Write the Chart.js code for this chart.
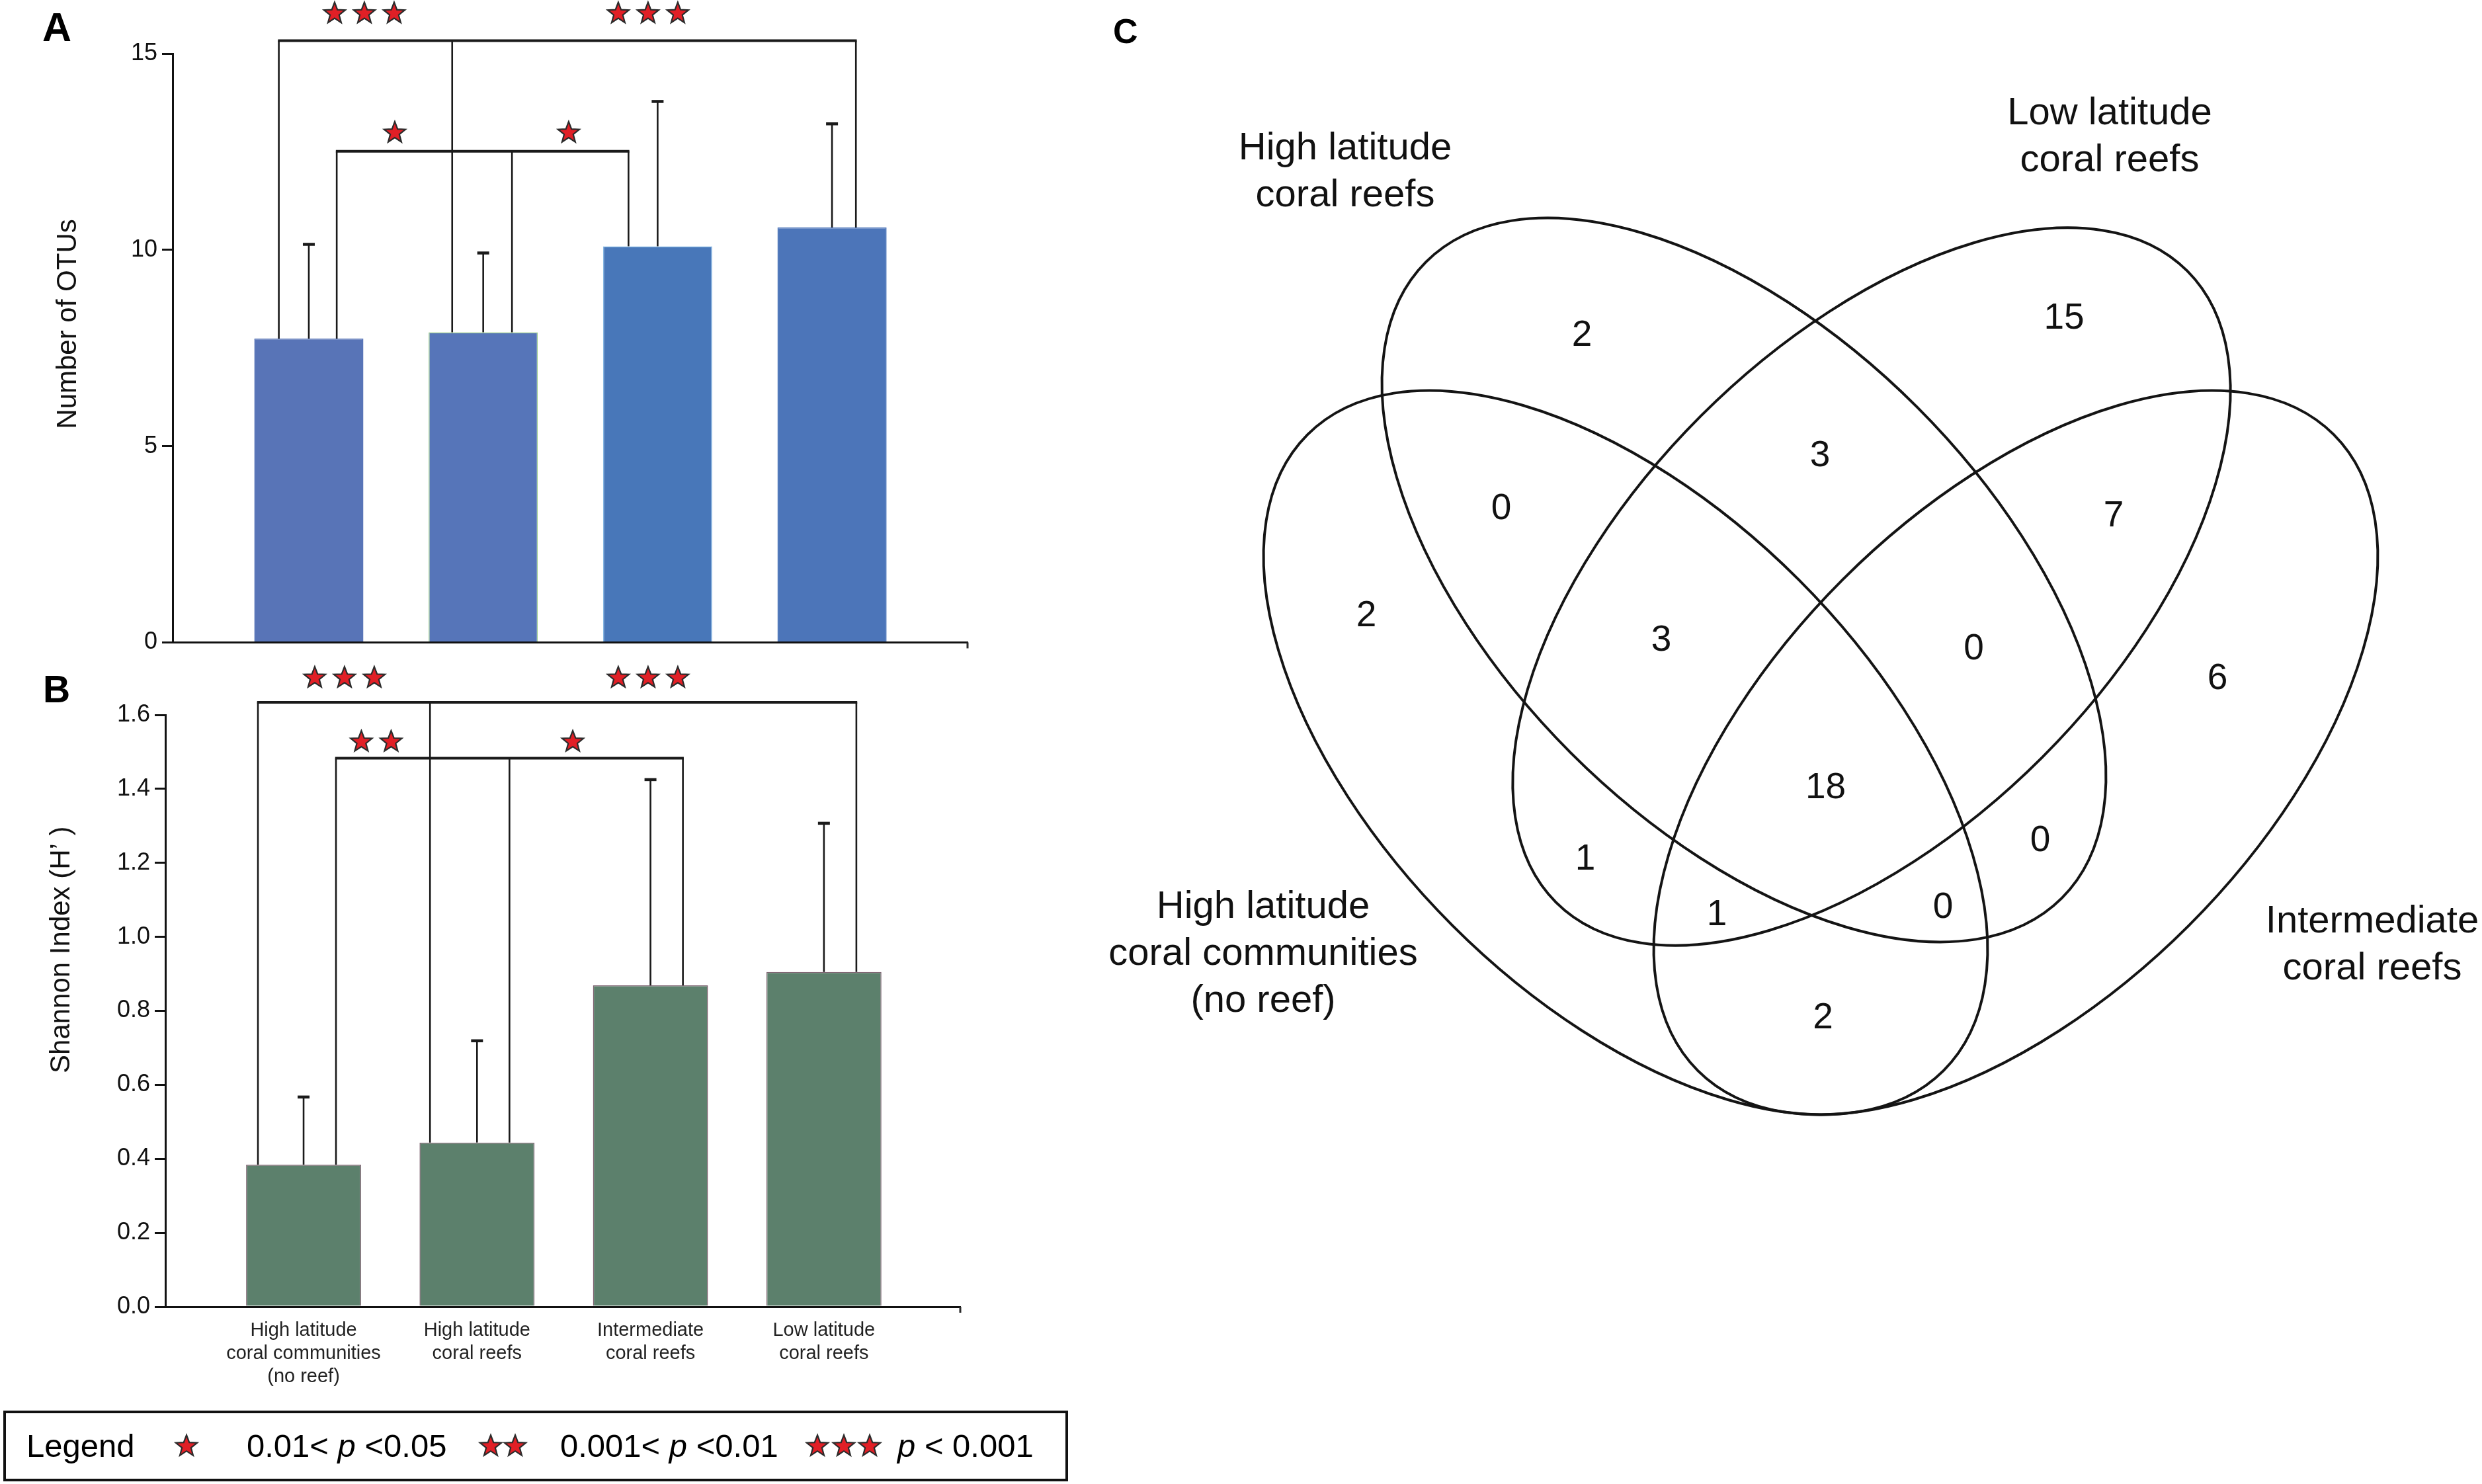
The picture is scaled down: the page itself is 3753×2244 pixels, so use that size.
<!DOCTYPE html>
<html>
<head>
<meta charset="utf-8">
<script src="https://cdn.jsdelivr.net/npm/chart.js@4.4.1/dist/chart.umd.min.js"></script>
<style>
  html, body { margin:0; padding:0; background:#fff; }
  body { width:3753px; height:2244px; position:relative; overflow:hidden; font-family:"Liberation Sans", Arial, sans-serif; color:#111; }
  canvas { position:absolute; }
  .plab { position:absolute; font-weight:bold; line-height:1; color:#000; }
  .lg { position:absolute; font-size:49px; line-height:49px; white-space:pre; color:#000; }
  #legendBox { position:absolute; left:5px; top:2133px; width:1602px; height:99px; border:4px solid #111; }
</style>
</head>
<body>
<canvas id="cA" width="1500" height="1000" style="left:0;top:0;width:1500px;height:1000px"></canvas>
<canvas id="cB" width="1500" height="1110" style="left:0;top:1000px;width:1500px;height:1110px"></canvas>
<canvas id="cC" width="2103" height="1750" style="left:1650px;top:0;width:2103px;height:1750px"></canvas>

<div class="plab" style="left:64px;top:11px;font-size:61px">A</div>
<div class="plab" style="left:65px;top:1014px;font-size:57px">B</div>
<div class="plab" style="left:1683px;top:21px;font-size:52px">C</div>

<div id="legendBox"></div>
<div class="lg" style="left:40px;top:2162px">Legend</div>
<div class="lg" style="left:373px;top:2162px">0.01&lt; <i>p</i> &lt;0.05</div>
<div class="lg" style="left:847px;top:2162px">0.001&lt; <i>p</i> &lt;0.01</div>
<div class="lg" style="left:1357px;top:2162px"><i>p</i> &lt; 0.001</div>
<svg id="legStars" style="position:absolute;left:0;top:2133px" width="1620" height="107"></svg>

<script>
// ---------------- DATA ----------------
const categories = [
  ["High latitude", "coral communities", "(no reef)"],
  ["High latitude", "coral reefs"],
  ["Intermediate", "coral reefs"],
  ["Low latitude", "coral reefs"]
];
// Panel A: number of OTUs (mean, mean + SD)
const otuMean = [7.74, 7.90, 10.09, 10.57];
const otuUpper = [10.14, 9.92, 13.78, 13.21];
// Panel B: Shannon index (mean, mean + SD)
const shannonMean = [0.384, 0.444, 0.869, 0.905];
const shannonUpper = [0.567, 0.719, 1.425, 1.307];
// significance brackets: level value, legs [category, offset], stars [x, y, count]
const bracketLevelsA = [15.33, 12.51];
const bracketLegsA = [
  [[0, -0.172], [1, -0.178], [3, 0.137]],
  [[0, 0.160], [1, 0.165], [2, -0.167]]
];
const starsA = [[0.3185, 16.02, 3], [1.945, 16.02, 3], [0.493, 12.98, 1], [1.49, 12.98, 1]];
const bracketLevelsB = [1.634, 1.483];
const bracketLegsB = [
  [[0, -0.263], [1, -0.271], [3, 0.187]],
  [[0, 0.187], [1, 0.187], [2, 0.187]]
];
const starsB = [[0.236, 1.70, 3], [1.986, 1.70, 3], [0.419, 1.527, 2], [1.552, 1.527, 1]];
const yTicksA = [0, 5, 10, 15];
const yTicksB = [0, 0.2, 0.4, 0.6, 0.8, 1.0, 1.2, 1.4, 1.6];
// Panel C: Venn counts per region
const vennSets = [
  ["High latitude", "coral communities", "(no reef)"],
  ["High latitude", "coral reefs"],
  ["Low latitude", "coral reefs"],
  ["Intermediate", "coral reefs"]
];
const vennRegions = ["B", "C", "B∩A", "B∩C", "C∩D", "A", "A∩B∩C", "B∩C∩D", "D", "A∩B∩C∩D", "A∩C", "B∩D", "A∩C∩D", "A∩B∩D", "A∩D"];
const vennCounts = [2, 15, 0, 3, 7, 2, 3, 0, 6, 18, 1, 0, 1, 0, 2];

// ---------------- LAYOUT ----------------
const vennRegionPos = [
  [-0.358, 0.409], [0.371, 0.435], [-0.480, 0.147], [0.002, 0.227], [0.446, 0.136],
  [-0.684, -0.015], [-0.238, -0.052], [0.2345, -0.065], [0.603, -0.110], [0.0105, -0.275],
  [-0.353, -0.383], [0.335, -0.355], [-0.154, -0.467], [0.188, -0.456], [0.0065, -0.623]
];
const vennEllipses = [ // cx, cy, semi-major, semi-minor, angle (deg, y-up)
  [-0.292, -0.221, 0.68, 0.37, -45],
  [-0.113, 0.040, 0.68, 0.37, -45],
  [0.080, 0.030, 0.675, 0.365, 45],
  [0.298, -0.221, 0.68, 0.37, 45]
];
const vennSetPos = [[-0.840, -0.455], [-0.716, 0.692], [0.440, 0.745], [0.837, -0.477]];

Chart.defaults.font.family = '"Liberation Sans", Arial, sans-serif';
Chart.defaults.color = '#111';

function drawStar(ctx, cx, cy, R, r) {
  ctx.beginPath();
  for (let k = 0; k < 10; k++) {
    const ang = -Math.PI / 2 + k * Math.PI / 5;
    const rr = k % 2 ? r : R;
    const px = cx + rr * Math.cos(ang), py = cy + rr * Math.sin(ang);
    if (k === 0) ctx.moveTo(px, py); else ctx.lineTo(px, py);
  }
  ctx.closePath();
  ctx.fillStyle = '#e11f26';
  ctx.fill();
  ctx.lineWidth = 2.2;
  ctx.strokeStyle = '#2b2b2b';
  ctx.lineJoin = 'miter';
  ctx.stroke();
}

const sigPlugin = {
  id: 'sig',
  afterDatasetsDraw(chart, args, o) {
    const ctx = chart.ctx, xs = chart.scales.x, ys = chart.scales.y;
    const line = (x1, y1, x2, y2) => { ctx.beginPath(); ctx.moveTo(x1, y1); ctx.lineTo(x2, y2); ctx.stroke(); };
    ctx.save();
    ctx.strokeStyle = '#1a1a1a';
    ctx.lineCap = 'butt';
    // error bars
    o.upper.forEach((u, i) => {
      const x = xs.getPixelForValue(i);
      const y0 = ys.getPixelForValue(o.mean[i]);
      const y1 = ys.getPixelForValue(u);
      ctx.lineWidth = 2.6; line(x, y0, x, y1);
      ctx.lineWidth = 4.5; line(x - 9, y1, x + 9, y1);
    });
    // brackets
    o.levels.forEach((lv, bi) => {
      const yy = ys.getPixelForValue(lv);
      const legs = o.legs[bi];
      const px = legs.map(([i, off]) => xs.getPixelForValue(i + off));
      ctx.lineWidth = 2.6;
      legs.forEach(([i, off], k) => line(px[k], yy, px[k], ys.getPixelForValue(o.mean[i])));
      ctx.lineWidth = 4;
      line(Math.min(...px) - 1.3, yy, Math.max(...px) + 1.3, yy);
    });
    // stars
    o.stars.forEach(([sx, sy, n]) => {
      const cx = xs.getPixelForValue(sx), cy = ys.getPixelForValue(sy);
      for (let k = 0; k < n; k++) drawStar(ctx, cx + (k - (n - 1) / 2) * 45, cy, 17, 7.2);
    });
    // x-axis end tick
    ctx.lineWidth = 3;
    line(chart.chartArea.right, chart.chartArea.bottom, chart.chartArea.right, chart.chartArea.bottom + 9);
    // y axis title
    ctx.fillStyle = '#111';
    ctx.font = '42px "Liberation Sans", Arial, sans-serif';
    ctx.textAlign = 'center';
    ctx.textBaseline = 'middle';
    ctx.translate(chart.chartArea.left - o.titleOffset, ys.getPixelForValue(o.titleAt));
    ctx.rotate(-Math.PI / 2);
    ctx.fillText(o.title, 0, 0);
    ctx.restore();
  }
};

function barChart(id, mean, upper, colors, borders, yMin, yMax, yTicks, xMin, xMax, barPct, pad, yWidth, xHeight, showCats, levels, legs, stars, title, titleAt, titleOffset, fmt) {
  return new Chart(document.getElementById(id), {
    type: 'bar',
    data: {
      datasets: [{
        data: mean.map((v, i) => ({ x: i, y: v })),
        backgroundColor: colors,
        borderColor: borders,
        borderWidth: 1.5,
        categoryPercentage: 1,
        barPercentage: barPct
      }]
    },
    options: {
      responsive: false,
      devicePixelRatio: 1,
      animation: false,
      events: [],
      layout: { padding: pad },
      plugins: {
        legend: { display: false },
        tooltip: { enabled: false },
        sig: { mean, upper, levels, legs, stars, title, titleAt, titleOffset }
      },
      scales: {
        x: {
          type: 'linear',
          offset: false,
          min: xMin, max: xMax,
          grid: { display: false, offset: false },
          border: { display: true, color: '#111', width: 3 },
          afterBuildTicks: s => { s.ticks = categories.map((c, i) => ({ value: i })); },
          afterFit: s => { s.height = xHeight; },
          ticks: {
            display: showCats,
            autoSkip: false,
            maxRotation: 0,
            padding: 11,
            font: { size: 29, lineHeight: 1.2 },
            color: '#222',
            callback: v => categories[v]
          }
        },
        y: {
          min: yMin, max: yMax,
          afterBuildTicks: s => { s.ticks = yTicks.map(v => ({ value: v })); },
          afterFit: s => { s.width = yWidth; },
          grid: { drawOnChartArea: false, drawTicks: true, tickLength: 16, color: '#111', lineWidth: 3 },
          border: { display: true, color: '#111', width: 3 },
          ticks: { font: { size: 36 }, color: '#111', padding: 7, callback: fmt }
        }
      }
    },
    plugins: [sigPlugin]
  });
}

barChart('cA', otuMean, otuUpper,
  ['#5874b7', '#5675b9', '#4877b9', '#4c75b9'],
  ['#5874b7', '#9acb8c', '#86b6e2', '#4c75b9'],
  0, 15, yTicksA, -0.781, 3.777, 0.626,
  { left: 0, top: 81, right: 37, bottom: 24 }, 261, 0, false,
  bracketLevelsA, bracketLegsA, starsA, 'Number of OTUs', 8.11, 158, v => String(v));

barChart('cB', shannonMean, shannonUpper,
  ['#5c806c', '#5c806c', '#5c806c', '#5c806c'],
  ['#7f6673', '#7f6673', '#7f6673', '#7f6673'],
  0, 1.6, yTicksB, -0.797, 3.786, 0.663,
  { left: 0, top: 81, right: 48, bottom: 14 }, 250, 120, true,
  bracketLevelsB, bracketLegsB, starsB, 'Shannon Index (H\u2019 )', 0.965, 157, v => Number(v).toFixed(1));

// ---------------- VENN ----------------
const vennPlugin = {
  id: 'venn',
  afterDatasetsDraw(chart) {
    const ctx = chart.ctx, xs = chart.scales.x, ys = chart.scales.y;
    const k = xs.getPixelForValue(1) - xs.getPixelForValue(0);
    ctx.save();
    ctx.strokeStyle = '#141414';
    ctx.lineWidth = 4;
    vennEllipses.forEach(([cx, cy, a, b, ang]) => {
      ctx.beginPath();
      ctx.ellipse(xs.getPixelForValue(cx), ys.getPixelForValue(cy), a * k, b * k, -ang * Math.PI / 180, 0, Math.PI * 2);
      ctx.stroke();
    });
    ctx.fillStyle = '#111';
    ctx.textAlign = 'center';
    ctx.textBaseline = 'middle';
    ctx.font = '55px "Liberation Sans", Arial, sans-serif';
    const meta = chart.getDatasetMeta(0);
    meta.data.forEach((pt, i) => ctx.fillText(String(vennCounts[i]), pt.x, pt.y));
    ctx.font = '58px "Liberation Sans", Arial, sans-serif';
    vennSets.forEach((lines, i) => {
      const [sx, sy] = vennSetPos[i];
      lines.forEach((ln, j) => ctx.fillText(ln, xs.getPixelForValue(sx), ys.getPixelForValue(sy) + j * 71));
    });
    ctx.restore();
  }
};

new Chart(document.getElementById('cC'), {
  type: 'scatter',
  data: {
    labels: vennRegions,
    datasets: [{ data: vennRegionPos.map(([x, y]) => ({ x, y })), pointRadius: 0, pointHoverRadius: 0 }]
  },
  options: {
    responsive: false,
    devicePixelRatio: 1,
    animation: false,
    events: [],
    layout: { padding: 0 },
    plugins: { legend: { display: false }, tooltip: { enabled: false } },
    scales: {
      x: { type: 'linear', min: -1.1, max: 1.003, display: false },
      y: { type: 'linear', min: -0.833, max: 0.917, display: false }
    }
  },
  plugins: [vennPlugin]
});

// legend stars
(function () {
  const svg = document.getElementById('legStars');
  const ns = 'http://www.w3.org/2000/svg';
  const centers = [282, 742, 779, 1236, 1276, 1315];
  centers.forEach(cx => {
    const cy = 2187 - 2133;
    const pts = [];
    for (let k = 0; k < 10; k++) {
      const ang = -Math.PI / 2 + k * Math.PI / 5;
      const rr = k % 2 ? 7.2 : 17;
      pts.push((cx + rr * Math.cos(ang)).toFixed(2) + ',' + (cy + rr * Math.sin(ang)).toFixed(2));
    }
    const p = document.createElementNS(ns, 'polygon');
    p.setAttribute('points', pts.join(' '));
    p.setAttribute('fill', '#e11f26');
    p.setAttribute('stroke', '#2b2b2b');
    p.setAttribute('stroke-width', '2.2');
    svg.appendChild(p);
  });
})();
</script>
</body>
</html>
